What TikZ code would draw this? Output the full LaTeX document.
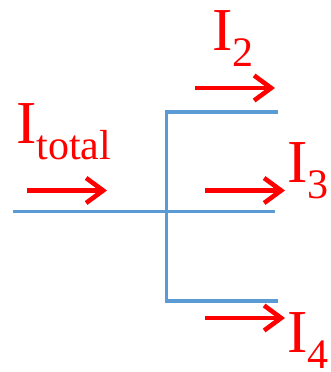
\documentclass[tikz,border=0pt]{standalone}
\usepackage{fontspec}
\setmainfont{Liberation Serif}
\usetikzlibrary{arrows.meta}
\definecolor{wireblue}{HTML}{5B9BD5}
\definecolor{curred}{HTML}{FF0000}
\tikzset{
  wire/.style={draw=wireblue, line width=3.6pt},
  cur/.style={draw=curred, line width=4.6pt, -{Straight Barb[length=17pt,width=25pt,line width=4.6pt]}},
  lbl/.style={text=curred, inner sep=0pt, anchor=base west},
}
\newcommand{\curlbl}[1]{{\fontsize{61}{61}\selectfont I}\raisebox{-16pt}{\fontsize{42}{42}\selectfont #1}}
\begin{document}
\begin{tikzpicture}[x=1pt,y=-1pt]
\useasboundingbox (0,0) rectangle (330,372);
% wires
\coordinate (in) at (13,211.5);
\coordinate (j) at (166.5,211.5);
\coordinate (mid) at (275,211.5);
\coordinate (vt) at (166.5,112);
\coordinate (vb) at (166.5,301);
\coordinate (top) at (278,112);
\coordinate (bot) at (278,301);
\draw[wire] (in) -- (mid);
\draw[wire] (top) -- (vt) -- (vb) -- (bot);
% arrows
\coordinate (a1s) at (27,190.5); \coordinate (a1e) at (107,190.5);
\coordinate (a2s) at (195,88); \coordinate (a2e) at (275,88);
\coordinate (a3s) at (205,190.5); \coordinate (a3e) at (285,190.5);
\coordinate (a4s) at (205,318); \coordinate (a4e) at (285,318);
\draw[cur] (a1s) -- (a1e);
\draw[cur] (a2s) -- (a2e);
\draw[cur] (a3s) -- (a3e);
\draw[cur] (a4s) -- (a4e);
% labels
\node[lbl] (Lt) at (16,143) {\curlbl{total}};
\node[lbl] (L2) at (212,50) {\curlbl{2}};
\node[lbl] (L3) at (287,182) {\curlbl{3}};
\node[lbl] (L4) at (287,352) {\curlbl{4}};
\end{tikzpicture}
\end{document}
